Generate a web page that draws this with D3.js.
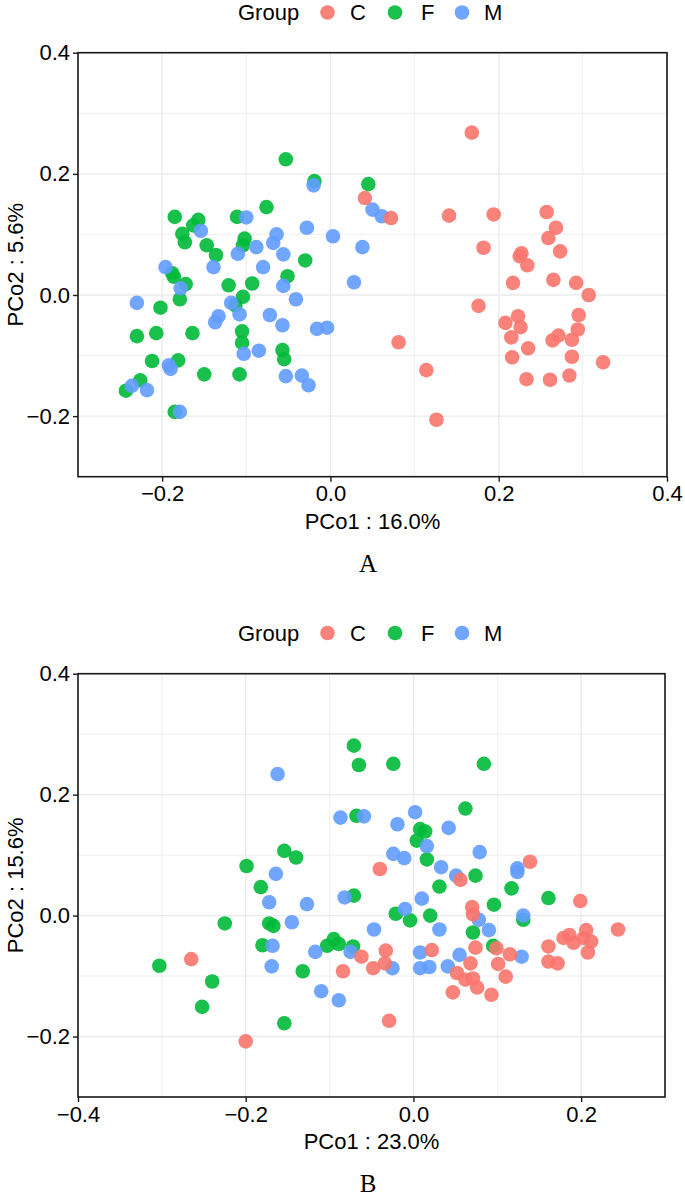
<!DOCTYPE html>
<html>
<head>
<meta charset="utf-8">
<script src="https://cdn.jsdelivr.net/npm/d3@7"></script>
<style>
  html, body { margin: 0; padding: 0; background: #fff; }
  svg { display: block; }
</style>
</head>
<body>
<svg id="chart" width="685" height="1198"></svg>
<script>
// ---------------- DATA ----------------
const groups = ["C", "F", "M"];
const groupColors = ["#F8766D", "#00BA38", "#619CFF"];
const xTicksA = [-0.2, 0.0, 0.2, 0.4];
const xTicksB = [-0.4, -0.2, 0.0, 0.2];
const yTicks = [-0.2, 0.0, 0.2, 0.4];
const xTitleA = "PCo1 : 16.0%";
const yTitleA = "PCo2 : 5.6%";
const xTitleB = "PCo1 : 23.0%";
const yTitleB = "PCo2 : 15.6%";

// Panel A
const panelA_F = [
  [-0.053,0.224],[-0.019,0.188],[0.045,0.183],[-0.076,0.145],[-0.185,0.129],[-0.157,0.124],
  [-0.163,0.115],[-0.176,0.101],[-0.173,0.087],[-0.147,0.082],[-0.136,0.066],[-0.111,0.129],
  [-0.102,0.093],[-0.104,0.082],[-0.030,0.057],[-0.051,0.031],[-0.188,0.036],[-0.186,0.030],
  [-0.172,0.018],[-0.179,-0.007],[-0.121,0.016],[-0.093,0.019],[-0.104,-0.003],[-0.113,-0.017],
  [-0.202,-0.021],[-0.230,-0.068],[-0.207,-0.063],[-0.164,-0.063],[-0.105,-0.060],[-0.105,-0.079],
  [-0.057,-0.091],[-0.055,-0.106],[-0.212,-0.109],[-0.181,-0.108],[-0.150,-0.131],[-0.108,-0.131],
  [-0.226,-0.141],[-0.243,-0.158],[-0.185,-0.193]
];
const panelA_M = [
  [-0.020,0.181],[0.050,0.141],[0.061,0.130],[-0.154,0.106],[-0.100,0.128],[-0.110,0.068],
  [-0.088,0.079],[-0.064,0.100],[-0.068,0.086],[-0.056,0.067],[-0.080,0.046],[-0.028,0.111],
  [0.003,0.097],[0.038,0.079],[0.028,0.021],[-0.056,0.015],[-0.041,-0.007],[-0.196,0.046],
  [-0.178,0.011],[-0.139,0.046],[-0.118,-0.013],[-0.108,-0.032],[-0.133,-0.035],[-0.137,-0.045],
  [-0.072,-0.033],[-0.057,-0.050],[-0.016,-0.056],[-0.004,-0.054],[-0.230,-0.013],[-0.103,-0.097],
  [-0.085,-0.092],[-0.192,-0.116],[-0.190,-0.122],[-0.053,-0.134],[-0.034,-0.133],[-0.026,-0.149],
  [-0.236,-0.150],[-0.218,-0.157],[-0.179,-0.193]
];
const panelA_C = [
  [0.168,0.268],[0.041,0.160],[0.072,0.127],[0.141,0.131],[0.194,0.133],[0.257,0.137],
  [0.268,0.111],[0.259,0.094],[0.273,0.072],[0.182,0.078],[0.227,0.069],[0.225,0.064],
  [0.234,0.049],[0.217,0.020],[0.265,0.025],[0.292,0.020],[0.307,0.000],[0.176,-0.018],
  [0.295,-0.033],[0.294,-0.057],[0.223,-0.035],[0.208,-0.046],[0.226,-0.053],[0.081,-0.078],
  [0.215,-0.070],[0.271,-0.067],[0.264,-0.075],[0.287,-0.074],[0.235,-0.088],[0.216,-0.103],
  [0.287,-0.102],[0.233,-0.139],[0.261,-0.140],[0.284,-0.133],[0.324,-0.111],[0.114,-0.124],
  [0.126,-0.206]
];

// Panel B
const panelB_F = [
  [-0.071,0.281],[-0.065,0.249],[-0.024,0.251],[0.084,0.251],[-0.068,0.165],[0.062,0.177],
  [0.008,0.143],[0.014,0.139],[0.004,0.124],[0.016,0.093],[-0.154,0.107],[-0.140,0.096],
  [-0.199,0.082],[-0.182,0.047],[-0.071,0.033],[0.031,0.048],[0.074,0.066],[0.117,0.045],
  [0.161,0.029],[-0.225,-0.013],[-0.172,-0.013],[-0.167,-0.017],[-0.021,0.003],[-0.004,-0.008],
  [0.020,0.000],[0.096,0.018],[0.131,-0.007],[0.071,-0.028],[0.095,-0.050],[-0.180,-0.049],
  [-0.103,-0.050],[-0.095,-0.039],[-0.089,-0.047],[-0.072,-0.051],[-0.303,-0.083],[-0.240,-0.109],
  [-0.252,-0.151],[-0.132,-0.092],[-0.154,-0.178]
];
const panelB_M = [
  [-0.162,0.234],[-0.087,0.162],[-0.059,0.164],[0.002,0.171],[-0.019,0.151],[0.016,0.115],
  [-0.024,0.102],[-0.011,0.095],[0.042,0.145],[0.079,0.105],[0.033,0.080],[0.051,0.066],
  [0.124,0.078],[0.124,0.072],[-0.164,0.069],[-0.172,0.022],[-0.127,0.019],[-0.082,0.030],
  [0.010,0.028],[-0.145,-0.011],[-0.010,0.011],[-0.047,-0.023],[0.031,-0.023],[0.078,-0.007],
  [0.090,-0.024],[0.131,0.000],[-0.168,-0.050],[-0.117,-0.060],[-0.075,-0.060],[-0.025,-0.087],
  [0.008,-0.061],[0.008,-0.087],[0.019,-0.085],[0.041,-0.084],[0.055,-0.065],[0.129,-0.068],
  [-0.169,-0.084],[-0.110,-0.125],[-0.089,-0.140]
];
const panelB_C = [
  [-0.040,0.077],[0.056,0.059],[0.139,0.089],[0.199,0.024],[0.070,0.014],[0.071,0.002],
  [0.244,-0.023],[0.179,-0.037],[0.186,-0.032],[0.191,-0.045],[0.203,-0.037],[0.206,-0.024],
  [0.212,-0.043],[0.208,-0.061],[0.161,-0.051],[0.161,-0.076],[0.172,-0.079],[0.099,-0.054],
  [0.074,-0.053],[0.115,-0.064],[0.101,-0.080],[0.110,-0.101],[0.093,-0.131],[0.076,-0.119],
  [0.068,-0.079],[0.052,-0.095],[0.062,-0.106],[0.071,-0.104],[0.047,-0.127],[0.022,-0.057],
  [-0.062,-0.068],[-0.033,-0.058],[-0.048,-0.087],[-0.034,-0.079],[-0.084,-0.092],[-0.265,-0.072],
  [-0.029,-0.174],[-0.200,-0.208]
];

// ---------------- DRAWING ----------------
const svg = d3.select("#chart");
const FONT = "'Liberation Sans', Arial, Helvetica, sans-serif";
const color = d3.scaleOrdinal().domain(groups).range(groupColors);

function drawLegend(cy) {
  const g = svg.append("g").attr("font-family", FONT).attr("font-size", 22).attr("fill", "#000");
  g.append("text").attr("x", 238).attr("y", cy + 7.5).text("Group");
  const cx = [327.5, 395, 462];
  const tx = [350, 421, 484];
  groups.forEach((k, i) => {
    g.append("circle").attr("cx", cx[i]).attr("cy", cy).attr("r", 7.3)
      .attr("fill", color(k)).attr("fill-opacity", 0.9);
    g.append("text").attr("x", tx[i]).attr("y", cy + 7.5).text(k);
  });
}

function drawPanel(opt) {
  const x = d3.scaleLinear().domain(opt.xDomain).range([opt.left, opt.right]);
  const y = d3.scaleLinear().domain([-0.3, 0.4]).range([opt.bottom, opt.top]);
  const g = svg.append("g");

  // grid (minor + major every 0.1)
  const xGrid = d3.range(Math.round(opt.xDomain[0] * 10), Math.round(opt.xDomain[1] * 10) + 1).map(d => d / 10);
  const yGrid = d3.range(-3, 5).map(d => d / 10);
  g.append("g").selectAll("line").data(xGrid).join("line")
    .attr("x1", d => x(d)).attr("x2", d => x(d))
    .attr("y1", opt.top).attr("y2", opt.bottom)
    .attr("stroke", "#ebebeb")
    .attr("stroke-width", d => Math.abs(Math.round(d * 10)) % 2 === 0 ? 1.4 : 0.8);
  g.append("g").selectAll("line").data(yGrid).join("line")
    .attr("x1", opt.left).attr("x2", opt.right)
    .attr("y1", d => y(d)).attr("y2", d => y(d))
    .attr("stroke", "#ebebeb")
    .attr("stroke-width", d => Math.abs(Math.round(d * 10)) % 2 === 0 ? 1.4 : 0.8);

  // points: F, M, then C on top
  const series = [["F", opt.F], ["M", opt.M], ["C", opt.C]];
  series.forEach(([k, pts]) => {
    g.append("g").selectAll("circle").data(pts).join("circle")
      .attr("cx", d => x(d[0])).attr("cy", d => y(d[1])).attr("r", 7.3)
      .attr("fill", color(k)).attr("fill-opacity", 0.9);
  });

  // border
  g.append("rect").attr("x", opt.left).attr("y", opt.top)
    .attr("width", opt.right - opt.left).attr("height", opt.bottom - opt.top)
    .attr("fill", "none").attr("stroke", "#1a1a1a").attr("stroke-width", 1.6);

  // axes
  const fmt = d3.format(".1f");
  const xa = g.append("g").attr("transform", `translate(0,${opt.bottom})`)
    .call(d3.axisBottom(x).tickValues(opt.xTicks).tickFormat(fmt).tickSize(5).tickPadding(4));
  const ya = g.append("g").attr("transform", `translate(${opt.left},0)`)
    .call(d3.axisLeft(y).tickValues(yTicks).tickFormat(fmt).tickSize(5).tickPadding(3));
  [xa, ya].forEach(a => {
    a.select(".domain").remove();
    a.selectAll(".tick line").attr("stroke", "#1a1a1a").attr("stroke-width", 1.4);
    a.selectAll(".tick text").attr("font-family", FONT).attr("font-size", 22).attr("fill", "#000");
  });

  // titles
  const cxp = (opt.left + opt.right) / 2;
  const cyp = (opt.top + opt.bottom) / 2;
  svg.append("text").attr("x", cxp).attr("y", opt.bottom + 52)
    .attr("text-anchor", "middle").attr("font-family", FONT).attr("font-size", 22).attr("fill", "#000")
    .text(opt.xTitle);
  svg.append("text").attr("transform", `translate(23,${cyp}) rotate(-90)`)
    .attr("text-anchor", "middle").attr("font-family", FONT).attr("font-size", 22).attr("fill", "#000")
    .text(opt.yTitle);
  svg.append("text").attr("x", 368).attr("y", opt.bottom + 95)
    .attr("text-anchor", "middle").attr("font-family", "'Liberation Serif', 'Times New Roman', serif")
    .attr("font-size", 25).attr("fill", "#000")
    .text(opt.label);
}

drawLegend(12.5);
drawPanel({
  left: 78, right: 667, top: 52.7, bottom: 476.7,
  xDomain: [-0.3, 0.4], xTicks: xTicksA,
  F: panelA_F, M: panelA_M, C: panelA_C,
  xTitle: xTitleA, yTitle: yTitleA, label: "A"
});

drawLegend(633);
drawPanel({
  left: 78, right: 665, top: 673.7, bottom: 1097,
  xDomain: [-0.4, 0.3], xTicks: xTicksB,
  F: panelB_F, M: panelB_M, C: panelB_C,
  xTitle: xTitleB, yTitle: yTitleB, label: "B"
});
</script>
</body>
</html>
